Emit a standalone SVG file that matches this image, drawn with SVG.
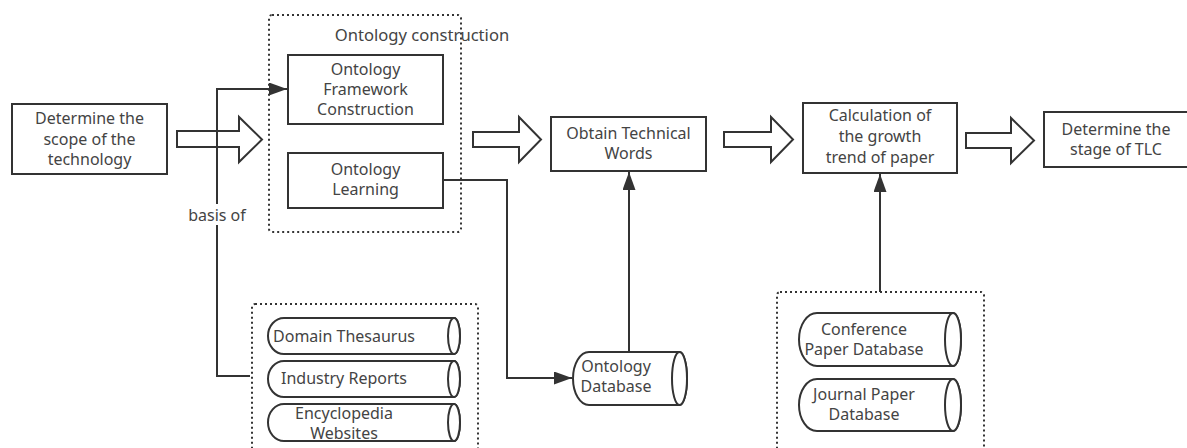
<svg xmlns="http://www.w3.org/2000/svg" width="1187" height="448" viewBox="0 0 1187 448">
<style>
.box{fill:#fff;stroke:#333;stroke-width:2}
.dot{fill:none;stroke:#333;stroke-width:2;stroke-dasharray:2 3}
.hol{fill:none;stroke:#333;stroke-width:2;stroke-linejoin:miter}
.cyl{fill:#fff;stroke:#333;stroke-width:2}
.con{fill:none;stroke:#333;stroke-width:2}
text{font-family:"Noto Sans","Open Sans",sans-serif;font-size:16px;fill:#444;text-anchor:middle}
</style>
<defs>
<marker id="ah" markerUnits="userSpaceOnUse" markerWidth="18" markerHeight="13" refX="18" refY="6.5" orient="auto">
<path d="M0,0 L18,6.5 L0,13 Z" fill="#333"/>
</marker>
</defs>

<g id="group-ontology-construction">
<rect class="dot" x="269" y="15" width="192" height="217" rx="3"/>
<text x="422" y="41" style="font-size:16.6px">Ontology construction</text>
</g>
<g id="group-sources">
<rect class="dot" x="252" y="304" width="226" height="160" rx="3"/>
</g>
<g id="group-papers">
<rect class="dot" x="777" y="292" width="207" height="170" rx="3"/>
</g>

<g id="hollow-arrows">
<polygon class="hol" points="177,131 239,131 239,117 262,139.5 239,162 239,147 177,147"/>
<polygon class="hol" points="473,132 519,132 519,117 541,139.5 519,162 519,147 473,147"/>
<polygon class="hol" points="724,132 771,132 771,117 793,139.5 771,162 771,147 724,147"/>
<polygon class="hol" points="966,133 1011,133 1011,118 1034,140.5 1011,163 1011,148 966,148"/>
</g>

<g id="connectors">
<path class="con" d="M250,376 H217 V89 H287" marker-end="url(#ah)"/>
<rect x="186" y="204" width="62" height="21" fill="#fff"/>
<text x="217" y="221">basis of</text>
<path class="con" d="M443,180 H507 V378 H572" marker-end="url(#ah)"/>
<path class="con" d="M629,352 V172" marker-end="url(#ah)"/>
<path class="con" d="M880,292 V174" marker-end="url(#ah)"/>
</g>

<g id="node-scope">
<rect class="box" x="12" y="104" width="155" height="70"/>
<text x="89.5" y="124">Determine the</text>
<text x="89.5" y="145">scope of the</text>
<text x="89.5" y="165">technology</text>
</g>
<g id="node-framework">
<rect class="box" x="288" y="55" width="155" height="69"/>
<text x="365.5" y="75">Ontology</text>
<text x="365.5" y="95">Framework</text>
<text x="365.5" y="115">Construction</text>
</g>
<g id="node-learning">
<rect class="box" x="288" y="153" width="155" height="55"/>
<text x="365.5" y="175">Ontology</text>
<text x="365.5" y="195">Learning</text>
</g>
<g id="node-obtain">
<rect class="box" x="551" y="117" width="155" height="54"/>
<text x="628.5" y="139">Obtain Technical</text>
<text x="628.5" y="159">Words</text>
</g>
<g id="node-calculation">
<rect class="box" x="803" y="103" width="154" height="70"/>
<text x="880" y="121">Calculation of</text>
<text x="880" y="142">the growth</text>
<text x="880" y="163">trend of paper</text>
</g>
<g id="node-stage">
<rect class="box" x="1044" y="112" width="150" height="55"/>
<text x="1116" y="135">Determine the</text>
<text x="1116" y="155">stage of TLC</text>
</g>

<g id="node-domain-thesaurus">
<path class="cyl" d="M454,318 H284 A16,18 0 0 0 284,354 H454 A6,18 0 0 0 454,318 Z"/>
<ellipse class="cyl" cx="454" cy="336" rx="6" ry="18"/>
<text x="344" y="342">Domain Thesaurus</text>
</g>
<g id="node-industry-reports">
<path class="cyl" d="M454,361 H284 A16,18 0 0 0 284,397 H454 A6,18 0 0 0 454,361 Z"/>
<ellipse class="cyl" cx="454" cy="379" rx="6" ry="18"/>
<text x="344" y="384">Industry Reports</text>
</g>
<g id="node-encyclopedia">
<path class="cyl" d="M454,404 H284 A16,18.5 0 0 0 284,441 H454 A6,18.5 0 0 0 454,404 Z"/>
<ellipse class="cyl" cx="454" cy="422.5" rx="6" ry="18.5"/>
<text x="344" y="419">Encyclopedia</text>
<text x="344" y="439">Websites</text>
</g>
<g id="node-ontology-database">
<path class="cyl" d="M679.5,352 H589 A16,26.5 0 0 0 589,405 H679.5 A7.5,26.5 0 0 0 679.5,352 Z"/>
<ellipse class="cyl" cx="679.5" cy="378.5" rx="7.5" ry="26.5"/>
<text x="616" y="372">Ontology</text>
<text x="616" y="392">Database</text>
</g>
<g id="node-conference">
<path class="cyl" d="M953,313 H817 A18,26.5 0 0 0 817,366 H953 A8,26.5 0 0 0 953,313 Z"/>
<ellipse class="cyl" cx="953" cy="339.5" rx="8" ry="26.5"/>
<text x="864" y="335">Conference</text>
<text x="864" y="355">Paper Database</text>
</g>
<g id="node-journal">
<path class="cyl" d="M953,379 H817 A18,26 0 0 0 817,431 H953 A8,26 0 0 0 953,379 Z"/>
<ellipse class="cyl" cx="953" cy="405" rx="8" ry="26"/>
<text x="864" y="400">Journal Paper</text>
<text x="864" y="420">Database</text>
</g>
</svg>
